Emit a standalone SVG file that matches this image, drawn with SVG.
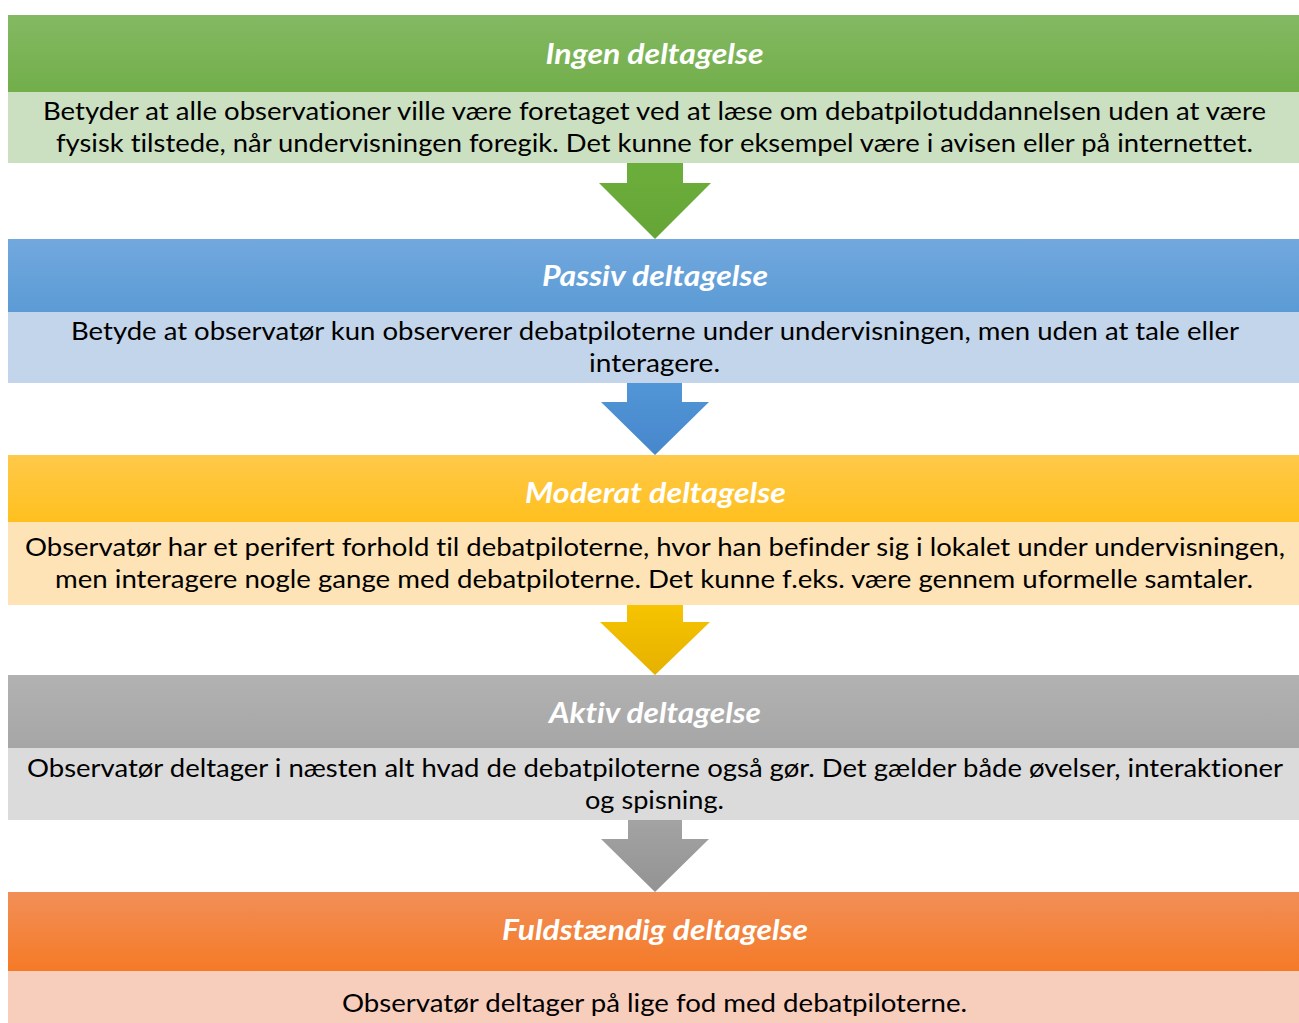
<svg xmlns="http://www.w3.org/2000/svg" width="1299" height="1023" viewBox="0 0 1299 1023">
<defs>
<linearGradient id="gG" x1="0" y1="0" x2="0" y2="1"><stop offset="0" stop-color="#84b963"/><stop offset="1" stop-color="#72ae4a"/></linearGradient>
<linearGradient id="gB" x1="0" y1="0" x2="0" y2="1"><stop offset="0" stop-color="#72a8de"/><stop offset="1" stop-color="#5b9bd5"/></linearGradient>
<linearGradient id="gY" x1="0" y1="0" x2="0" y2="1"><stop offset="0" stop-color="#ffc94a"/><stop offset="1" stop-color="#ffc01e"/></linearGradient>
<linearGradient id="gA" x1="0" y1="0" x2="0" y2="1"><stop offset="0" stop-color="#b2b2b2"/><stop offset="1" stop-color="#a6a6a6"/></linearGradient>
<linearGradient id="gO" x1="0" y1="0" x2="0" y2="1"><stop offset="0" stop-color="#f18f58"/><stop offset="1" stop-color="#f57a26"/></linearGradient>
<linearGradient id="aG" x1="0" y1="0" x2="0" y2="1"><stop offset="0" stop-color="#6cae3c"/><stop offset="1" stop-color="#65a536"/></linearGradient>
<linearGradient id="aB" x1="0" y1="0" x2="0" y2="1"><stop offset="0" stop-color="#5196d6"/><stop offset="1" stop-color="#4787cc"/></linearGradient>
<linearGradient id="aY" x1="0" y1="0" x2="0" y2="1"><stop offset="0" stop-color="#f6c400"/><stop offset="1" stop-color="#e6b100"/></linearGradient>
<linearGradient id="aA" x1="0" y1="0" x2="0" y2="1"><stop offset="0" stop-color="#a3a3a3"/><stop offset="1" stop-color="#939393"/></linearGradient>
</defs>
<style>
text{font-variant-ligatures:none;font-feature-settings:"liga" 0,"clig" 0,"dlig" 0,"calt" 0}
.hd{font-family:Lato,"Liberation Sans",sans-serif;font-weight:bold;font-style:italic;font-size:28px;fill:#ffffff;text-anchor:middle}
.bd{font-family:Lato,"Liberation Sans",sans-serif;font-size:25px;fill:#000000;text-anchor:middle}
</style>
<rect width="1299" height="1023" fill="#ffffff"/>
<g id="connectors">
<polygon points="627,163 683,163 683,183 711,183 655,239 599,183 627,183" fill="url(#aG)"/>
<polygon points="627,383 682,383 682,402 709,402 655,455 601,402 627,402" fill="url(#aB)"/>
<polygon points="627,605 683,605 683,622 710,622 655,675 600,622 627,622" fill="url(#aY)"/>
<polygon points="628,820 682,820 682,839 709,839 655,892 601,839 628,839" fill="url(#aA)"/>
</g>
<g id="node-ingen">
<rect x="8" y="15" width="1291" height="77" fill="url(#gG)"/>
<rect x="8" y="92" width="1291" height="71" fill="#cbdfc1"/>
<text class="hd" x="654.5" y="64" textLength="218" lengthAdjust="spacingAndGlyphs">Ingen deltagelse</text>
<text class="bd" x="654.5" y="120" textLength="1223" lengthAdjust="spacingAndGlyphs">Betyder at alle observationer ville være foretaget ved at læse om debatpilotuddannelsen uden at være</text>
<text class="bd" x="654.5" y="152" textLength="1197" lengthAdjust="spacingAndGlyphs">fysisk tilstede, når undervisningen foregik. Det kunne for eksempel være i avisen eller på internettet.</text>
</g>
<g id="node-passiv">
<rect x="8" y="239" width="1291" height="73" fill="url(#gB)"/>
<rect x="8" y="312" width="1291" height="71" fill="#c3d5ea"/>
<text class="hd" x="655" y="286" textLength="226" lengthAdjust="spacingAndGlyphs">Passiv deltagelse</text>
<text class="bd" x="655" y="340" textLength="1168" lengthAdjust="spacingAndGlyphs">Betyde at observatør kun observerer debatpiloterne under undervisningen, men uden at tale eller</text>
<text class="bd" x="654.5" y="372" textLength="131" lengthAdjust="spacingAndGlyphs">interagere.</text>
</g>
<g id="node-moderat">
<rect x="8" y="455" width="1291" height="67" fill="url(#gY)"/>
<rect x="8" y="522" width="1291" height="83" fill="#fde3b6"/>
<text class="hd" x="655.5" y="503" textLength="261" lengthAdjust="spacingAndGlyphs">Moderat deltagelse</text>
<text class="bd" x="655" y="556" textLength="1260" lengthAdjust="spacingAndGlyphs">Observatør har et perifert forhold til debatpiloterne, hvor han befinder sig i lokalet under undervisningen,</text>
<text class="bd" x="654" y="588" textLength="1198" lengthAdjust="spacingAndGlyphs">men interagere nogle gange med debatpiloterne. Det kunne f.eks. være gennem uformelle samtaler.</text>
</g>
<g id="node-aktiv">
<rect x="8" y="675" width="1291" height="73" fill="url(#gA)"/>
<rect x="8" y="748" width="1291" height="72" fill="#dbdbdb"/>
<text class="hd" x="655" y="723" textLength="212" lengthAdjust="spacingAndGlyphs">Aktiv deltagelse</text>
<text class="bd" x="655" y="777" textLength="1256" lengthAdjust="spacingAndGlyphs">Observatør deltager i næsten alt hvad de debatpiloterne også gør. Det gælder både øvelser, interaktioner</text>
<text class="bd" x="654.5" y="809" textLength="139" lengthAdjust="spacingAndGlyphs">og spisning.</text>
</g>
<g id="node-fuld">
<rect x="8" y="892" width="1291" height="79" fill="url(#gO)"/>
<rect x="8" y="971" width="1291" height="52" fill="#f7cdbc"/>
<text class="hd" x="655" y="940" textLength="306" lengthAdjust="spacingAndGlyphs">Fuldstændig deltagelse</text>
<text class="bd" x="654.5" y="1012" textLength="625" lengthAdjust="spacingAndGlyphs">Observatør deltager på lige fod med debatpiloterne.</text>
</g>
</svg>
